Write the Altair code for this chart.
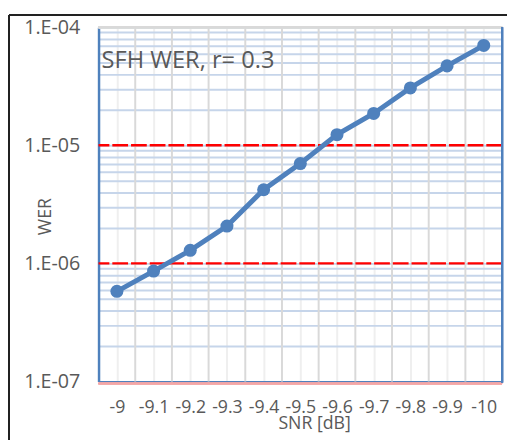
import altair as alt
import pandas as pd

snr = [-9, -9.1, -9.2, -9.3, -9.4, -9.5, -9.6, -9.7, -9.8, -9.9, -10]
wer = [5.8e-7, 8.6e-7, 1.29e-6, 2.07e-6, 4.2e-6, 7.0e-6, 1.23e-5, 1.86e-5, 3.06e-5, 4.7e-5, 7.0e-5]
thresholds = [1e-5, 1e-6]
x_bounds = [-9.05, -9.15, -9.25, -9.35, -9.45, -9.55, -9.65, -9.75, -9.85, -9.95]
y_grid = [k * 10.0 ** e for e in (-7, -6, -5) for k in range(1, 10)] + [1e-4]
title_text = "SFH WER, r= 0.3"

df = pd.DataFrame({"snr": snr, "wer": wer})
thr = pd.DataFrame({"t": thresholds})
bounds = pd.DataFrame({"b": x_bounds})

FONT = "Open Sans"
GRAY = "#595959"
BLUE = "#4f81bd"

x_axis = alt.Axis(
    values=snr,
    labelExpr="'' + datum.value",
    grid=True, gridColor="#efefef", gridWidth=2,
    ticks=False,
    domainColor=BLUE, domainWidth=2,
    labelFont=FONT, labelFontSize=18, labelColor=GRAY, labelPadding=18,
    labelOverlap=False, labelFlush=False,
    title="SNR [dB]", titleFont=FONT, titleFontSize=18, titleFontWeight="normal",
    titleColor=GRAY, titleX=219, titleY=43, titleBaseline="middle", titleAlign="center",
)
is_decade = "abs(log(datum.value)/LN10 - round(log(datum.value)/LN10)) < 0.0001"
y_axis = alt.Axis(
    values=y_grid,
    labelExpr=f"{is_decade} ? ('1.E-0' + (-round(log(datum.value)/LN10))) : ''",
    grid=True, gridColor="#c6d5ea", gridWidth=2,
    ticks=False,
    domainColor=BLUE, domainWidth=2.5,
    labelFont=FONT, labelFontSize=20, labelColor=GRAY, labelPadding=19,
    labelOverlap=False,
    title="WER", titleFont=FONT, titleFontSize=18, titleFontWeight="normal",
    titleColor=GRAY, titleX=-54, titleY=192, titleAngle=270,
    titleAlign="center", titleBaseline="middle",
)

x_enc = alt.X("snr:Q", scale=alt.Scale(domain=[-8.95, -10.05], nice=False, zero=False), axis=x_axis)
y_enc = alt.Y("wer:Q", scale=alt.Scale(type="log", domain=[1e-7, 1e-4], nice=False), axis=y_axis)

base = alt.Chart(df)
line = base.mark_line(color=BLUE, strokeWidth=5).encode(x=x_enc, y=y_enc)
points = base.mark_circle(color=BLUE, size=175, opacity=1).encode(x="snr:Q", y="wer:Q")

vgrid = alt.Chart(bounds).mark_rule(color="#d9d9d9", strokeWidth=2).encode(
    x=alt.X("b:Q"), y=alt.value(0), y2=alt.value(360)
)

rules = alt.Chart(thr).mark_rule(color="#ff0000", strokeWidth=2.5, strokeDash=[16, 3]).encode(
    y=alt.Y("t:Q")
)

top_line = alt.Chart(df).mark_rule(color="#d9d9d9", strokeWidth=2).encode(
    x=alt.value(0), x2=alt.value(410), y=alt.value(0)
)
bottom_pink = alt.Chart(df).mark_rule(color="#f4a6a6", strokeWidth=1.5).encode(
    x=alt.value(0), x2=alt.value(410), y=alt.value(362)
)
right_line = alt.Chart(df).mark_rule(color=BLUE, strokeWidth=2).encode(
    x=alt.value(410), y=alt.value(0), y2=alt.value(361)
)
border_top = alt.Chart(df).mark_rule(color="#222222", strokeWidth=1.5).encode(
    x=alt.value(-91), x2=alt.value(420), y=alt.value(-12)
)
border_left = alt.Chart(df).mark_rule(color="#222222", strokeWidth=1.5).encode(
    x=alt.value(-91), y=alt.value(-12), y2=alt.value(500)
)

label = alt.Chart(pd.DataFrame({"t": [title_text]})).mark_text(
    align="left", baseline="middle", font=FONT, fontSize=24, color=GRAY
).encode(x=alt.value(3), y=alt.value(35), text="t:N")

chart = alt.layer(
    vgrid, top_line, bottom_pink, rules, line, points, right_line, label, border_top, border_left
).properties(
    width=410, height=360,
    autosize=alt.AutoSizeParams(type="none"),
    padding={"left": 92, "top": 16, "right": 5, "bottom": 56},
).configure_view(stroke=None)

chart.save("out.html", embed_options={"renderer": "svg", "actions": False})
